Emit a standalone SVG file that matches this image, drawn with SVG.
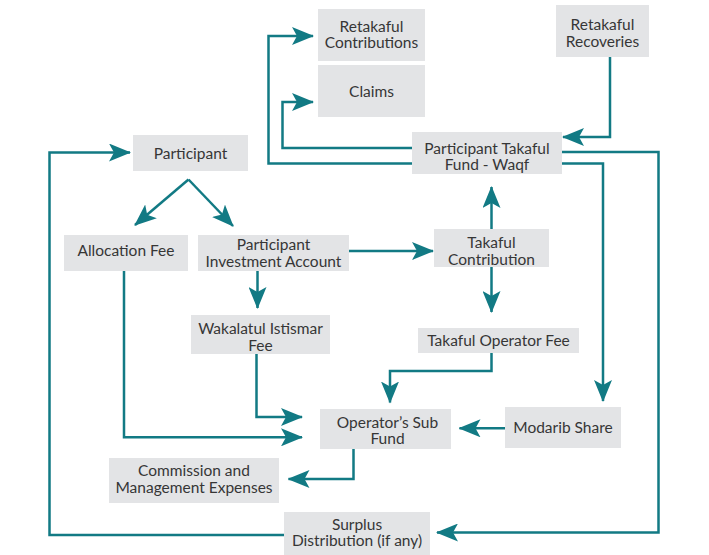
<svg xmlns="http://www.w3.org/2000/svg" width="709" height="555" viewBox="0 0 709 555">
  <style>
    .box { fill: #E3E4E6; }
    .lbl { font-family: Lato, "Liberation Sans", sans-serif; font-size: 15.5px; fill: #363636; text-anchor: middle; }
    .con { fill: none; stroke: #127A84; stroke-width: 2.5; marker-end: url(#ah); }
  </style>
  <defs>
    <marker id="ah" viewBox="0 0 22 18" refX="21" refY="9" markerWidth="22" markerHeight="18" markerUnits="userSpaceOnUse" orient="auto">
      <path d="M0,0 L22,9 L0,18 L5,9 Z" fill="#127A84"/>
    </marker>
  </defs>
  <rect width="709" height="555" fill="#FFFFFF"/>

  <g id="connectors">
    <path class="con" d="M610,57 V137 H563"/>
    <path class="con" d="M412,163.5 H268.5 V36 H313"/>
    <path class="con" d="M412,148 H282.5 V102 H313"/>
    <path class="con" d="M562,152 H658.5 V532.5 H437"/>
    <path class="con" d="M562,163.5 H603 V401"/>
    <path class="con" d="M284,535 H49.5 V152.5 H130"/>
    <path class="con" d="M188.5,179.5 L135,225"/>
    <path class="con" d="M188.5,179.5 L233,226"/>
    <path class="con" d="M349,251 H433"/>
    <path class="con" d="M491.5,229 V187"/>
    <path class="con" d="M491.5,267 V312"/>
    <path class="con" d="M257.5,271 V308"/>
    <path class="con" d="M491.5,353 V371 H390 V402.5"/>
    <path class="con" d="M256.5,354 V417 H302"/>
    <path class="con" d="M124,271 V437.3 H302"/>
    <path class="con" d="M505,428.3 H459.5"/>
    <path class="con" d="M353.5,449 V479 H288.5"/>
  </g>

  <g id="retakaful-contributions">
    <rect class="box" x="318" y="9" width="107" height="52"/>
    <text class="lbl" x="371.5" y="31.5">Retakaful</text>
    <text class="lbl" x="371.5" y="48">Contributions</text>
  </g>
  <g id="claims">
    <rect class="box" x="318" y="65" width="107" height="52"/>
    <text class="lbl" x="371.5" y="97">Claims</text>
  </g>
  <g id="retakaful-recoveries">
    <rect class="box" x="556" y="5" width="93" height="52"/>
    <text class="lbl" x="602.5" y="30">Retakaful</text>
    <text class="lbl" x="602.5" y="46.5">Recoveries</text>
  </g>
  <g id="participant-takaful-fund">
    <rect class="box" x="412" y="132" width="150" height="42"/>
    <text class="lbl" x="487" y="153.5">Participant Takaful</text>
    <text class="lbl" x="487" y="170">Fund - Waqf</text>
  </g>
  <g id="participant">
    <rect class="box" x="133" y="135" width="115" height="36"/>
    <text class="lbl" x="190.5" y="159">Participant</text>
  </g>
  <g id="allocation-fee">
    <rect class="box" x="64" y="235" width="124" height="36"/>
    <text class="lbl" x="126" y="255.5">Allocation Fee</text>
  </g>
  <g id="participant-investment-account">
    <rect class="box" x="198" y="235" width="151" height="36"/>
    <text class="lbl" x="273.5" y="250">Participant</text>
    <text class="lbl" x="273.5" y="266.5">Investment Account</text>
  </g>
  <g id="wakalatul-istismar-fee">
    <rect class="box" x="191" y="315" width="139" height="39"/>
    <text class="lbl" x="260.5" y="334">Wakalatul Istismar</text>
    <text class="lbl" x="260.5" y="350.5">Fee</text>
  </g>
  <g id="takaful-contribution">
    <rect class="box" x="434" y="229" width="115" height="38"/>
    <text class="lbl" x="491.5" y="248">Takaful</text>
    <text class="lbl" x="491.5" y="264.5">Contribution</text>
  </g>
  <g id="takaful-operator-fee">
    <rect class="box" x="418" y="328" width="161" height="25"/>
    <text class="lbl" x="498.5" y="345.5">Takaful Operator Fee</text>
  </g>
  <g id="modarib-share">
    <rect class="box" x="505" y="407" width="116" height="41"/>
    <text class="lbl" x="563" y="433">Modarib Share</text>
  </g>
  <g id="operators-sub-fund">
    <rect class="box" x="320" y="409" width="131" height="40"/>
    <text class="lbl" x="387.5" y="427.5">Operator’s Sub</text>
    <text class="lbl" x="387.5" y="444">Fund</text>
  </g>
  <g id="commission-management-expenses">
    <rect class="box" x="109" y="458" width="170" height="45"/>
    <text class="lbl" x="194" y="476">Commission and</text>
    <text class="lbl" x="194" y="492.5">Management Expenses</text>
  </g>
  <g id="surplus-distribution">
    <rect class="box" x="284" y="512" width="146" height="43"/>
    <text class="lbl" x="357" y="529.5">Surplus</text>
    <text class="lbl" x="357" y="546">Distribution (if any)</text>
  </g>
</svg>
